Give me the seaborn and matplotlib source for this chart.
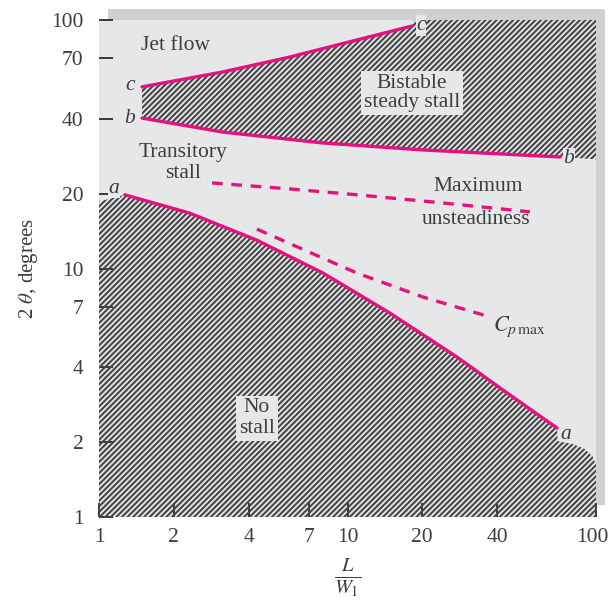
import numpy as np
import pandas as pd
import seaborn as sns
import matplotlib.pyplot as plt
from matplotlib.patches import Rectangle
from matplotlib.ticker import FixedLocator, NullLocator, FixedFormatter
from matplotlib.transforms import ScaledTranslation

# ---- data ----
a_x = [1.27, 2.32, 4.32, 7.97, 14.8, 27.6, 43.8, 69.7]
a_y = [19.8, 16.7, 13.0, 9.59, 6.62, 4.40, 3.16, 2.28]
b_x = [1.49, 3.15, 7.97, 20.1, 71.7]
b_y = [40.3, 35.4, 32.0, 30.0, 28.1]
c_x = [1.49, 3.15, 5.87, 10.9, 18.2]
c_y = [53.8, 61.8, 71.0, 83.1, 94.6]
unst_x = [2.85, 5.87, 10.9, 23.6, 54.2]
unst_y = [22.1, 20.9, 19.8, 18.4, 16.9]
cp_x = [4.32, 10.9, 20.1, 37.5]
cp_y = [14.4, 9.59, 7.68, 6.38]
# edges of the hatched zones
bistable_top_x = [18.5, 100, 100]
bistable_top_y = [100, 100, 27.5]
nostall_left_x = [1.0]
nostall_left_y = [18.6]
nostall_right_x = [70.0, 80.0, 90.0, 97.0, 100, 100, 1.0]
nostall_right_y = [2.02, 1.97, 1.88, 1.75, 1.62, 1.0, 1.0]

x_ticks = [1, 2, 4, 7, 10, 20, 40, 100]
y_ticks = [1, 2, 4, 7, 10, 20, 40, 70, 100]

MAG = '#e5127d'
BG = '#e6e7e9'
SHADOW = '#cfd0d2'
HATCH = '#474747'
TXT = '#3d3d3d'

sns.set_theme(style='white')
plt.rcParams['font.family'] = ['Liberation Serif', 'DejaVu Serif']
plt.rcParams['mathtext.fontset'] = 'stix'
plt.rcParams['hatch.linewidth'] = 1.5

fig = plt.figure(figsize=(6.09, 6.05), dpi=100)
W, H = 609, 605
fig.patches.append(Rectangle((108 / W, (H - 505) / H), (605 - 108) / W, (505 - 9) / H,
                             transform=fig.transFigure, facecolor=SHADOW,
                             edgecolor='none', zorder=-5))
ax = fig.add_axes([99 / W, (H - 517) / H, 497 / W, 497 / H])
ax.set_facecolor(BG)
ax.set_xscale('log')
ax.set_yscale('log')
ax.set_xlim(1, 100)
ax.set_ylim(1, 100)
for s in ax.spines.values():
    s.set_visible(False)

# hatched zones
upper_x = c_x + bistable_top_x + b_x[::-1]
upper_y = c_y + bistable_top_y + b_y[::-1]
ax.fill(upper_x, upper_y, facecolor='none', edgecolor=HATCH, hatch='//////',
        linewidth=0, zorder=1)
lower_x = nostall_left_x + a_x + nostall_right_x
lower_y = nostall_left_y + a_y + nostall_right_y
ax.fill(lower_x, lower_y, facecolor='none', edgecolor=HATCH, hatch='//////',
        linewidth=0, zorder=1)

# curves
for xs, ys in [(a_x, a_y), (b_x, b_y), (c_x, c_y)]:
    sns.lineplot(x=xs, y=ys, sort=False, estimator=None, color=MAG,
                 linewidth=2.4, ax=ax, zorder=3)
for xs, ys in [(unst_x, unst_y), (cp_x, cp_y)]:
    sns.lineplot(x=xs, y=ys, sort=False, estimator=None, color=MAG,
                 linewidth=2.4, linestyle=(0, (3.2, 2.6)), ax=ax, zorder=3)

# ticks
ax.xaxis.set_major_locator(FixedLocator(x_ticks))
ax.xaxis.set_minor_locator(NullLocator())
ax.xaxis.set_major_formatter(FixedFormatter([str(t) for t in x_ticks]))
ax.yaxis.set_major_locator(FixedLocator(y_ticks))
ax.yaxis.set_minor_locator(NullLocator())
ax.yaxis.set_major_formatter(FixedFormatter([str(t) for t in y_ticks]))
ax.tick_params(axis='both', which='major', direction='in', length=10, width=1.3,
               color='#2a2a2a', labelsize=15.5, labelcolor=TXT,
               left=True, bottom=True, top=False, right=False)
ax.tick_params(axis='x', pad=8)
ax.tick_params(axis='y', pad=11)
fig.canvas.draw()
last = ax.get_xticklabels()[-1]
last.set_transform(last.get_transform() + ScaledTranslation(-4 / 100, 0, fig.dpi_scale_trans))

ax.set_ylabel(r'2 $\theta$, degrees', fontsize=15, color=TXT, labelpad=8)
ax.set_xlabel(r'$\frac{L}{W_1}$', fontsize=21, color=TXT, labelpad=7)

box = dict(facecolor=BG, edgecolor='none', pad=2)
fs = 15.5
ax.text(2.03, 78.6, 'Jet flow', fontsize=fs, color=TXT, ha='center', va='center', zorder=4)
ax.text(18.2, 50.8, 'Bistable\nsteady stall', fontsize=fs, color=TXT, ha='center',
        va='center', linespacing=1.05, bbox=box, zorder=4)
ax.text(2.18, 26.6, 'Transitory\nstall', fontsize=fs, color=TXT, ha='center',
        va='center', linespacing=1.1, zorder=4)
ax.text(33.5, 21.3, 'Maximum', fontsize=fs, color=TXT, ha='center',
        va='center', zorder=4)
ax.text(33.0, 15.7, 'unsteadiness', fontsize=fs, color=TXT, ha='center',
        va='center', zorder=4)
ax.text(4.32, 2.50, 'No\nstall', fontsize=fs, color=TXT, ha='center', va='center',
        linespacing=1.1, bbox=box, zorder=4)
ax.text(38.5, 5.85, r'$C_{p\,\mathrm{max}}$', fontsize=16, color=TXT, ha='left',
        va='center', zorder=4)

lab = dict(fontsize=15.5, color=TXT, style='italic', va='center', zorder=4)
ax.text(1.40, 54.3, 'c', ha='right', **lab)
ax.text(1.40, 40.3, 'b', ha='right', **lab)
ax.text(1.21, 21.0, 'a', ha='right', bbox=dict(facecolor=BG, edgecolor='none', pad=0.3), **lab)
ax.text(18.9, 95.0, 'c', ha='left', bbox=dict(facecolor=BG, edgecolor='none', pad=0.5), **lab)
ax.text(74.0, 27.8, 'b', ha='left', bbox=dict(facecolor=BG, edgecolor='none', pad=0.5), **lab)
ax.text(72.0, 2.15, 'a', ha='left', **lab)

fig.savefig('out.png', dpi=100)
